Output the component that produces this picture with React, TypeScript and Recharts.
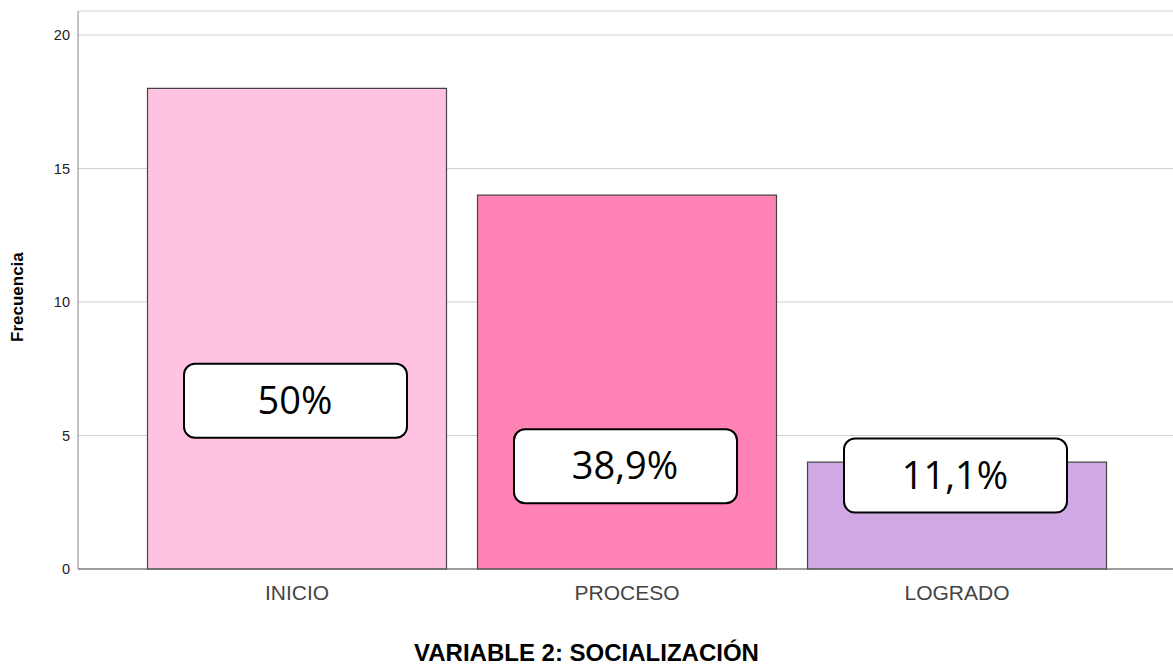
import { Bar, CartesianGrid, Cell, ComposedChart, Line, XAxis, YAxis } from 'recharts'

const categorias = ['INICIO', 'PROCESO', 'LOGRADO']
const frecuencias = [18, 14, 4]
const porcentajes = ['50%', '38,9%', '11,1%']
const alturaEtiqueta = [6.3, 3.85, 3.5]
const colores = ['#FFC2E1', '#FF82B5', '#D0A9E4']
const ticksY = [0, 5, 10, 15, 20]

const data = categorias.map((nombre, i) => ({
  nombre,
  cantidad: frecuencias[i],
  pct: porcentajes[i],
  etiqueta: alturaEtiqueta[i],
}))

const fuente = '"Liberation Sans", Arial, sans-serif'

function Caja(props: any): JSX.Element | null {
  const { cx, cy, payload } = props
  if (cx == null || cy == null) return null
  return (
    <g>
      <rect x={cx - 113} y={cy - 37} width={223} height={74} rx={11} fill="#fff" stroke="#000" strokeWidth={2} />
      <text x={cx - 2} y={cy + 13} textAnchor="middle" fontSize={38} fontFamily='"Open Sans", "Noto Sans", sans-serif' fill="#000">
        {payload.pct}
      </text>
    </g>
  )
}

export default function App(): JSX.Element {
  return (
    <div style={{ position: 'absolute', left: 0, top: 0, width: 1173, height: 666, background: '#fff' }}>
      <ComposedChart width={1173} height={666} data={data} margin={{ top: 11, right: 0, bottom: 67, left: 0 }} barCategoryGap="4.7%">
        <CartesianGrid vertical={false} stroke="#d0d0d0" />
        <XAxis
          dataKey="nombre"
          padding={{ left: 54, right: 51 }}
          tickLine={false}
          stroke="#555"
          tick={{ fontSize: 21, fill: '#444', fontFamily: fuente }}
          tickMargin={10}
        />
        <YAxis
          width={78}
          domain={[0, 20.9]}
          ticks={ticksY}
          tickLine={false}
          stroke="#888"
          tick={{ fontSize: 14.5, fill: '#222', fontFamily: fuente }}
          tickMargin={2}
          label={{
            value: 'Frecuencia',
            angle: -90,
            position: 'insideLeft',
            dx: 12,
            dy: 52,
            style: { fontSize: 17, fontWeight: 'bold', fill: '#000', fontFamily: fuente },
          }}
        />
        <Bar dataKey="cantidad" stroke="#444" strokeWidth={1.2} isAnimationActive={false}>
          {data.map((d, i) => (
            <Cell key={d.nombre} fill={colores[i]} />
          ))}
        </Bar>
        <Line dataKey="etiqueta" stroke="none" dot={<Caja />} activeDot={false} isAnimationActive={false} />
      </ComposedChart>
      <div
        style={{
          position: 'absolute',
          left: 0,
          width: 1173,
          top: 639,
          textAlign: 'center',
          fontFamily: fuente,
          fontWeight: 'bold',
          fontSize: 24,
          color: '#000',
        }}
      >
        VARIABLE 2: SOCIALIZACIÓN
      </div>
    </div>
  )
}
